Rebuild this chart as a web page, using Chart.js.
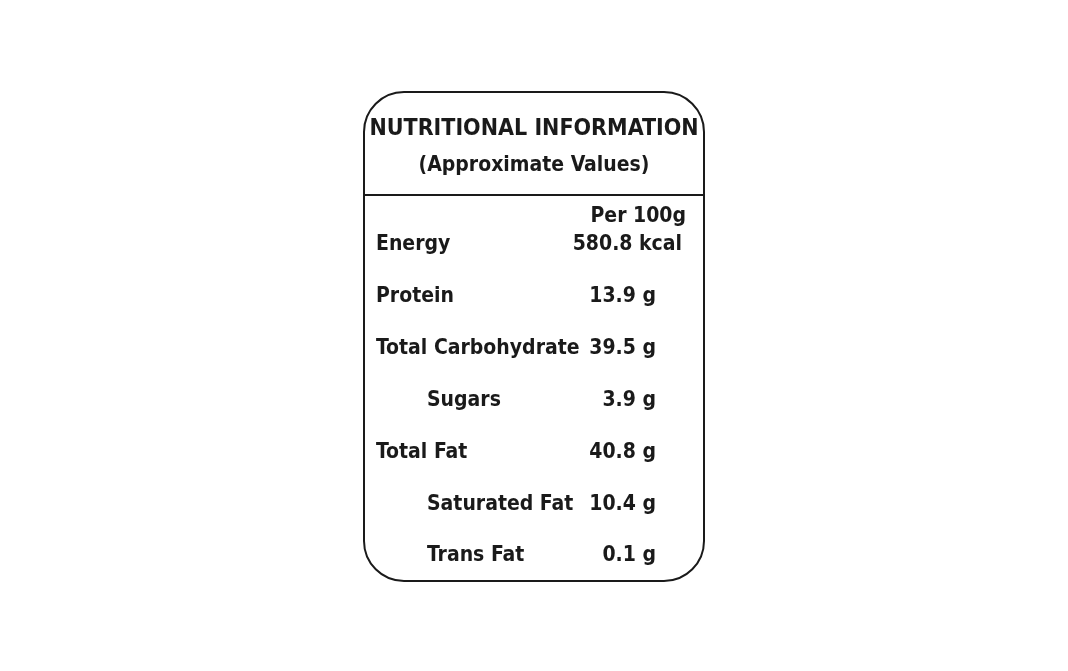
<!DOCTYPE html>
<html>
<head>
<meta charset="utf-8">
<script src="https://cdn.jsdelivr.net/npm/chart.js@4"></script>
<style>
  html, body { margin: 0; padding: 0; background: #fff; }
</style>
</head>
<body>
<canvas id="label" width="1068" height="671"></canvas>
<script>
// Table content
const titleLines = ['NUTRITIONAL INFORMATION', '(Approximate Values)'];
const columnHeader = 'Per 100g';
const nutrients = ['Energy', 'Protein', 'Total Carbohydrate', 'Sugars', 'Total Fat', 'Saturated Fat', 'Trans Fat'];
const amounts = ['580.8 kcal', '13.9 g', '39.5 g', '3.9 g', '40.8 g', '10.4 g', '0.1 g'];
const indented = [false, false, false, true, false, true, true];

const FONT = '"Liberation Sans Narrow", "DejaVu Sans Condensed", "Liberation Sans", sans-serif';

// Draws the label box and rows, rows placed through the y scale
const tablePlugin = {
  id: 'nutritionTable',
  afterDraw(chart) {
    const ctx = chart.ctx;
    const x = chart.scales.x;
    const y = chart.scales.y;
    const left = x.getPixelForValue(0);
    const right = x.getPixelForValue(1);
    const top = 92, bottom = 581, r = 40;

    ctx.save();
    ctx.strokeStyle = '#1a1a1a';
    ctx.lineWidth = 2;
    ctx.beginPath();
    ctx.roundRect(left, top, right - left, bottom - top, r);
    ctx.stroke();
    ctx.beginPath();
    ctx.moveTo(left, 195);
    ctx.lineTo(right, 195);
    ctx.stroke();

    ctx.fillStyle = '#1a1a1a';
    ctx.textBaseline = 'middle';
    ctx.textAlign = 'center';
    const cx = (left + right) / 2;
    ctx.font = 'bold 23px ' + FONT;
    ctx.fillText(titleLines[0], cx, 129);
    ctx.font = 'bold 21px ' + FONT;
    ctx.fillText(titleLines[1], cx, 166);

    ctx.textAlign = 'right';
    ctx.fillText(columnHeader, right - 18, 217);

    nutrients.forEach((name, i) => {
      const py = y.getPixelForValue(i);
      ctx.textAlign = 'left';
      ctx.fillText(name, left + (indented[i] ? 63 : 12), py);
      ctx.textAlign = 'right';
      ctx.fillText(amounts[i], i === 0 ? right - 22 : right - 48, py);
    });
    ctx.restore();
  }
};

new Chart(document.getElementById('label'), {
  type: 'scatter',
  data: { datasets: [{ data: [] }] },
  options: {
    responsive: false,
    animation: false,
    layout: { padding: { left: 364, right: 364, top: 245, bottom: 115 } },
    plugins: { legend: { display: false }, tooltip: { enabled: false } },
    scales: {
      x: { type: 'linear', min: 0, max: 1, display: false },
      y: { type: 'linear', min: 0, max: nutrients.length - 1, reverse: true, display: false }
    }
  },
  plugins: [tablePlugin]
});
</script>
</body>
</html>
